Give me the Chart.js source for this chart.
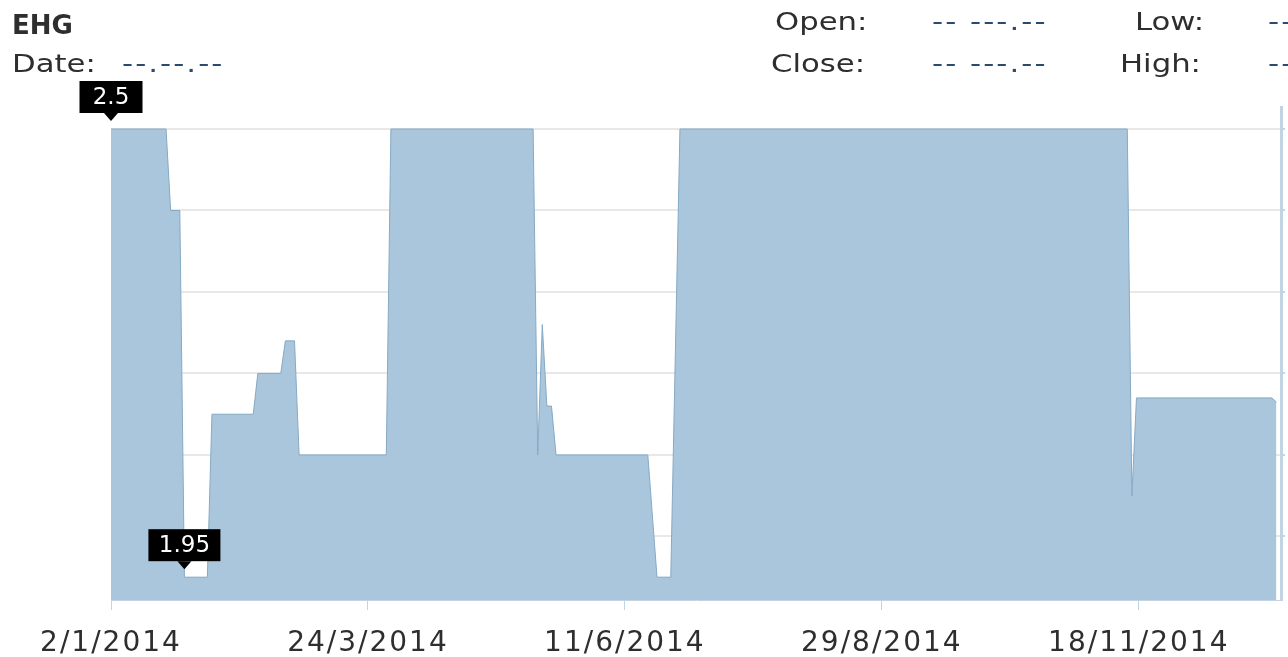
<!DOCTYPE html>
<html>
<head>
<meta charset="utf-8">
<script src="https://cdn.jsdelivr.net/npm/chart.js@4"></script>
<style>
  html, body { margin: 0; padding: 0; background: #fff; }
  #wrap { position: relative; width: 1288px; height: 657px; overflow: hidden; font-family: "DejaVu Sans", Verdana, sans-serif; }
  #wrap canvas { position: absolute; left: 0; top: 0; }
  .lbl, .val { position: absolute; font-size: 24px; line-height: 24px; white-space: nowrap; transform: scaleX(1.28); transform-origin: left top; }
  .lbl { color: #2e2e2e; }
  .val { color: #2a4a6e; letter-spacing: 1.6px; }
</style>
</head>
<body>
<div id="wrap">
  <canvas id="priceChart" width="1288" height="657"></canvas>
  <div class="lbl" style="left:12px; top:12px; font-weight:bold; font-size:26px; line-height:26px; transform:none;">EHG</div>
  <div class="lbl" style="left:12px; top:52px;">Date:</div>
  <div class="val" style="left:122px; top:52px;">--.--.--</div>
  <div class="lbl" style="left:775px; top:10px;">Open:</div>
  <div class="val" style="left:932px; top:10px;">-- ---.--</div>
  <div class="lbl" style="left:1135px; top:10px;">Low:</div>
  <div class="val" style="left:1268px; top:10px;">--</div>
  <div class="lbl" style="left:771px; top:52px;">Close:</div>
  <div class="val" style="left:932px; top:52px;">-- ---.--</div>
  <div class="lbl" style="left:1120px; top:52px;">High:</div>
  <div class="val" style="left:1268px; top:52px;">--</div>
</div>
<script>
// === Price data (trading-day index, close) ===
const dayIdx = [0, 12, 13, 15, 16, 21, 22, 31, 32, 37, 38, 40, 41, 60, 61, 92, 93, 94, 95, 96, 97, 117, 119, 122, 124, 221.5, 222.5, 223.5, 253, 254];
const price  = [2.5, 2.5, 2.4, 2.4, 1.95, 1.95, 2.15, 2.15, 2.2, 2.2, 2.24, 2.24, 2.1, 2.1, 2.5, 2.5, 2.1, 2.26, 2.16, 2.16, 2.1, 2.1, 1.95, 1.95, 2.5, 2.5, 2.05, 2.17, 2.17, 2.165];

// x axis labels
const tickIdx = [0, 56, 112, 168, 224];
const tickLabels = ["2/1/2014", "24/3/2014", "11/6/2014", "29/8/2014", "18/11/2014"];

// y grid lines
const gridVals = [2.0, 2.1, 2.2, 2.3, 2.4, 2.5];

const points = dayIdx.map((d, i) => ({ x: d, y: price[i] }));

// wider lettering for the axis labels
const spacingPlugin = {
  id: "spacing",
  beforeDraw(chart) { chart.ctx.letterSpacing = "2px"; }
};

// === Min / max flags ===
const flagPlugin = {
  id: "flags",
  afterDatasetsDraw(chart) {
    const ctx = chart.ctx;
    const xs = chart.scales.x, ys = chart.scales.y;
    const maxV = Math.max(...price), minV = Math.min(...price);
    const flags = [
      { i: price.indexOf(maxV), text: String(maxV), w: 63 },
      { i: price.indexOf(minV), text: String(minV), w: 72 }
    ];
    ctx.save();
    ctx.letterSpacing = "0px";
    ctx.font = "23px 'DejaVu Sans', Verdana, sans-serif";
    ctx.textAlign = "center";
    ctx.textBaseline = "middle";
    flags.forEach((f) => {
      const px = xs.getPixelForValue(dayIdx[f.i]);
      const py = ys.getPixelForValue(price[f.i]);
      const tipY = py - 8;
      const boxB = tipY - 8, boxT = boxB - 32;
      const cx = px;
      ctx.fillStyle = "#000";
      ctx.fillRect(cx - f.w / 2, boxT, f.w, 32);
      ctx.beginPath();
      ctx.moveTo(cx - 7, boxB);
      ctx.lineTo(cx + 7, boxB);
      ctx.lineTo(cx, tipY);
      ctx.closePath();
      ctx.fill();
      ctx.fillStyle = "#fff";
      ctx.fillText(f.text, cx, boxT + 17);
    });
    ctx.restore();
  }
};

new Chart(document.getElementById("priceChart").getContext("2d"), {
  type: "line",
  data: {
    datasets: [{
      data: points,
      borderColor: "#86a9c4",
      borderWidth: 1,
      backgroundColor: "#a9c6dc",
      fill: "start",
      pointRadius: 0,
      tension: 0
    }]
  },
  options: {
    responsive: false,
    animation: false,
    layout: { padding: { left: 111, top: 107, right: 0, bottom: 0 } },
    plugins: { legend: { display: false }, tooltip: { enabled: false } },
    scales: {
      x: {
        type: "linear",
        min: 0,
        max: 255,
        afterBuildTicks: (s) => { s.ticks = tickIdx.map((v) => ({ value: v })); },
        afterFit: (s) => { s.height = 57; },
        grid: { drawOnChartArea: false, drawTicks: true, tickLength: 10, color: "#c2d3e3" },
        border: { color: "#c2d3e3", width: 1 },
        ticks: {
          autoSkip: false,
          maxRotation: 0,
          padding: 17,
          color: "#2e2e2e",
          font: { family: "'DejaVu Sans', Verdana, sans-serif", size: 28 },
          callback: (v, i) => tickLabels[i]
        }
      },
      y: {
        position: "right",
        min: 1.922,
        max: 2.527,
        afterBuildTicks: (s) => { s.ticks = gridVals.map((v) => ({ value: v })); },
        afterFit: (s) => { s.width = 7; },
        grid: { color: "#e8e8e8", lineWidth: 2, drawTicks: true, tickLength: 4, tickColor: "#c2d3e3" },
        border: { color: "#c2d3e3", width: 3 },
        ticks: { display: false }
      }
    }
  },
  plugins: [spacingPlugin, flagPlugin]
});
</script>
</body>
</html>
